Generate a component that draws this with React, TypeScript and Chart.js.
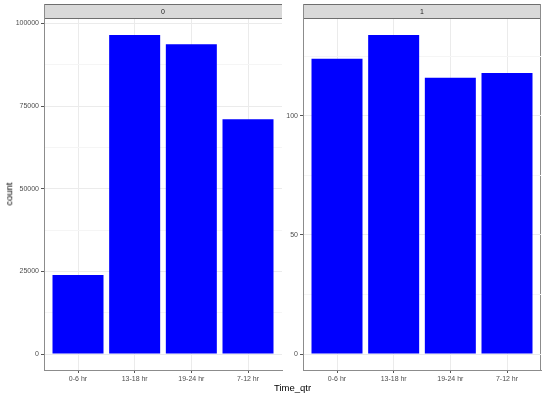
import React, { useEffect, useRef } from "react";
import { Chart, registerables } from "chart.js";

Chart.register(...registerables);

const categories = ["0-6 hr", "13-18 hr", "19-24 hr", "7-12 hr"];
const panelLabels = ["0", "1"];
const panel0Values = [23900, 96500, 93700, 71000];
const panel1Values = [124, 134, 116, 118];
const panel0Ticks = [0, 25000, 50000, 75000, 100000];
const panel0Minor = [12500, 37500, 62500, 87500];
const panel1Ticks = [0, 50, 100];
const panel1Minor = [25, 75, 125];
const xTitle = "Time_qtr";
const yTitle = "count";

const FONT = "'Liberation Sans', Arial, Helvetica, sans-serif";

function makeConfig(
  values: number[],
  majors: number[],
  minors: number[],
  strip: string,
  yAxisWidth: number,
  rightBorder: boolean
): any {
  const maxV = Math.max(...values);
  const minorSet = new Set(minors);
  const stripPlugin = {
    id: "strip",
    beforeDraw(chart: any) {
      const { ctx, chartArea } = chart;
      const l = chartArea.left;
      const r = chartArea.right;
      ctx.save();
      ctx.fillStyle = "#D9D9D9";
      ctx.fillRect(l, 4, r - l, 15);
      ctx.strokeStyle = "#6E6E6E";
      ctx.lineWidth = 1;
      ctx.beginPath();
      ctx.moveTo(l, 4.5);
      ctx.lineTo(r, 4.5);
      ctx.moveTo(l, 18.5);
      ctx.lineTo(r, 18.5);
      ctx.stroke();
      ctx.strokeStyle = "#8C8C8C";
      ctx.beginPath();
      ctx.moveTo(l + 0.5, 4);
      ctx.lineTo(l + 0.5, 19);
      if (rightBorder) {
        ctx.moveTo(r - 0.5, 4);
        ctx.lineTo(r - 0.5, chartArea.bottom);
      }
      ctx.stroke();
      ctx.fillStyle = "#1A1A1A";
      ctx.font = `7px ${FONT}`;
      ctx.textAlign = "center";
      ctx.textBaseline = "middle";
      ctx.fillText(strip, (l + r) / 2, 12);
      ctx.restore();
    },
  };
  return {
    type: "bar",
    data: {
      datasets: [
        {
          data: values.map((v, i) => ({ x: i, y: v })),
          backgroundColor: "#0000FF",
          borderWidth: 0,
          barPercentage: 0.9,
          categoryPercentage: 1,
        },
      ],
    },
    options: {
      animation: false,
      responsive: false,
      devicePixelRatio: 1,
      layout: { padding: { top: 19, right: 2, left: 0, bottom: 0 } },
      plugins: { legend: { display: false }, tooltip: { enabled: false } },
      scales: {
        x: {
          type: "linear",
          min: -0.6,
          max: 3.6,
          offset: false,
          afterBuildTicks: (s: any) => {
            s.ticks = categories.map((_, i) => ({ value: i }));
          },
          afterFit: (s: any) => {
            s.height = 26;
          },
          ticks: {
            callback: (v: any) => categories[v] ?? "",
            autoSkip: false,
            maxRotation: 0,
            minRotation: 0,
            padding: 2,
            color: "#4D4D4D",
            font: { size: 7, family: FONT },
          },
          grid: { color: "#EBEBEB", tickColor: "#555555", tickLength: 3, offset: false },
          border: { color: "#8C8C8C", width: 1 },
        },
        y: {
          type: "linear",
          min: -0.05 * maxV,
          max: 1.05 * maxV,
          afterBuildTicks: (s: any) => {
            s.ticks = [...majors, ...minors].sort((a, b) => a - b).map((v) => ({ value: v }));
          },
          afterFit: (s: any) => {
            s.width = yAxisWidth;
          },
          ticks: {
            callback: (v: any) => (minorSet.has(v) ? "" : String(v)),
            autoSkip: false,
            padding: 2,
            color: "#4D4D4D",
            font: { size: 7, family: FONT },
          },
          grid: {
            color: (c: any) => (c.tick && minorSet.has(c.tick.value) ? "#F5F5F5" : "#EBEBEB"),
            tickColor: (c: any) =>
              c.tick && minorSet.has(c.tick.value) ? "rgba(0,0,0,0)" : "#555555",
            tickLength: 3,
          },
          border: { color: "#8C8C8C", width: 1 },
        },
      },
    },
    plugins: [stripPlugin],
  };
}

export default function App() {
  const leftRef = useRef<HTMLCanvasElement>(null);
  const rightRef = useRef<HTMLCanvasElement>(null);

  useEffect(() => {
    const c1 = new Chart(
      leftRef.current as HTMLCanvasElement,
      makeConfig(panel0Values, panel0Ticks, panel0Minor, panelLabels[0], 44, false)
    );
    const c2 = new Chart(
      rightRef.current as HTMLCanvasElement,
      makeConfig(panel1Values, panel1Ticks, panel1Minor, panelLabels[1], 33, true)
    );
    return () => {
      c1.destroy();
      c2.destroy();
    };
  }, []);

  return (
    <div
      style={{
        position: "fixed",
        left: 0,
        top: 0,
        width: 543,
        height: 396,
        background: "#FFFFFF",
        overflow: "hidden",
      }}
    >
      <canvas
        ref={leftRef}
        width={284}
        height={396}
        style={{ position: "absolute", left: 0, top: 0, width: 284, height: 396 }}
      />
      <canvas
        ref={rightRef}
        width={273}
        height={396}
        style={{ position: "absolute", left: 270, top: 0, width: 273, height: 396 }}
      />
      <div
        style={{
          position: "absolute",
          left: 8.5,
          top: 194,
          transform: "translate(-50%, -50%) rotate(-90deg)",
          whiteSpace: "nowrap",
          fontSize: 9.5,
          lineHeight: 1,
          fontFamily: FONT,
          color: "#000000",
        }}
      >
        {yTitle}
      </div>
      <div
        style={{
          position: "absolute",
          left: 292.5,
          top: 388,
          transform: "translate(-50%, -50%)",
          whiteSpace: "nowrap",
          fontSize: 9.5,
          lineHeight: 1,
          fontFamily: FONT,
          color: "#000000",
        }}
      >
        {xTitle}
      </div>
    </div>
  );
}
